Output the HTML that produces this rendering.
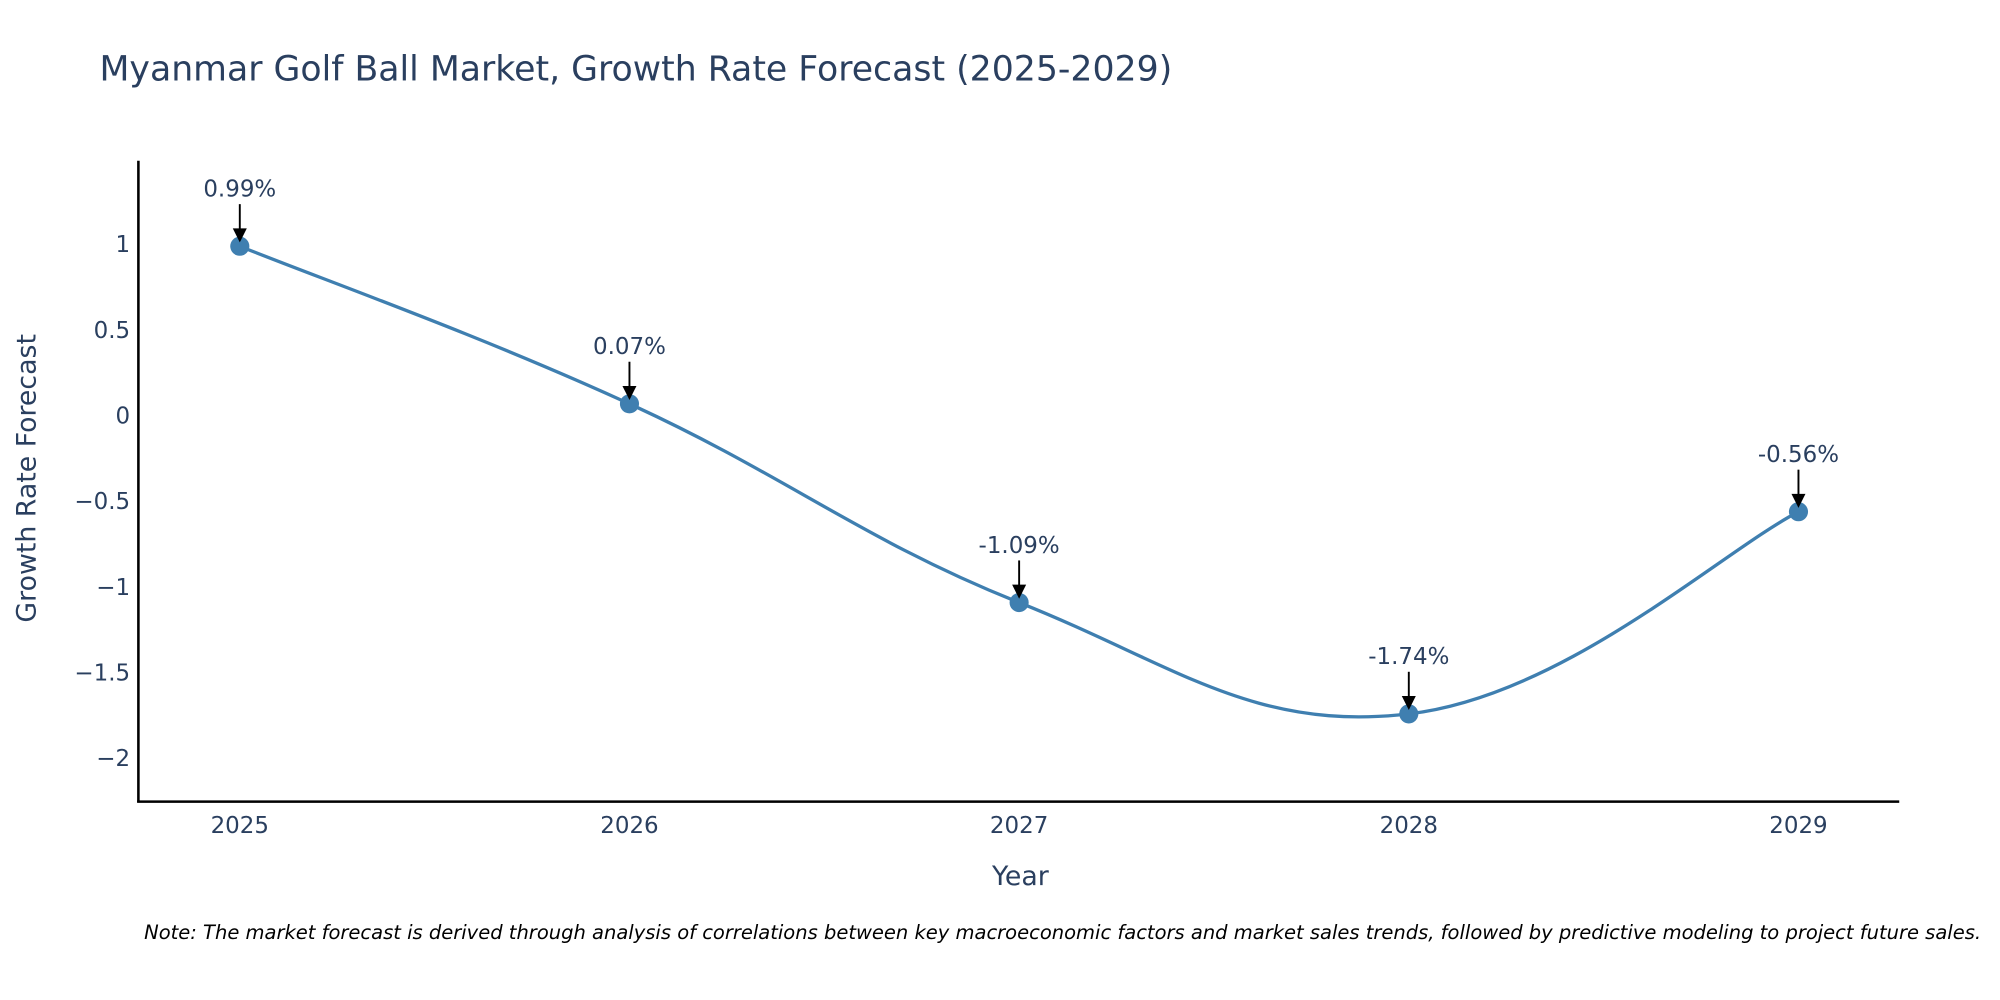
<!DOCTYPE html>
<html><head><meta charset="utf-8"><style>
html,body{margin:0;padding:0;background:#fff;}
svg{display:block;font-family:"DejaVu Sans","Liberation Sans",sans-serif;}
</style></head><body>
<svg id="chart" width="2000" height="1000" viewBox="0 0 1568 784">
<text x="78" y="63" font-size="27.2" fill="#2a3f5f">Myanmar Golf Ball Market, Growth Rate Forecast (2025-2029)</text>
<g id="yticks"></g>
<g id="xticks"></g>
<line x1="108.5" y1="126" x2="108.5" y2="629" stroke="#000" stroke-width="2"/>
<line x1="107.5" y1="628.5" x2="1489" y2="628.5" stroke="#000" stroke-width="2"/>
<path id="line" fill="none" stroke="#3f7fb0" stroke-width="2.6"/>
<g id="marks"></g>
<text x="800" y="694" font-size="21" fill="#2a3f5f" text-anchor="middle">Year</text>
<text transform="translate(28,375) rotate(-90)" font-size="21" fill="#2a3f5f" text-anchor="middle">Growth Rate Forecast</text>
<text x="113" y="736" font-size="15.3" font-style="italic" fill="#000">Note: The market forecast is derived through analysis of correlations between key macroeconomic factors and market sales trends, followed by predictive modeling to project future sales.</text>
</svg>
<script>
const years = [2025, 2026, 2027, 2028, 2029];
const values = [0.99, 0.07, -1.09, -1.74, -0.56];
const labels = ["0.99%", "0.07%", "-1.09%", "-1.74%", "-0.56%"];
const yTickVals = [1, 0.5, 0, -0.5, -1, -1.5, -2];
const yTickText = ["1", "0.5", "0", "\u22120.5", "\u22121", "\u22121.5", "\u22122"];

const NS = "http://www.w3.org/2000/svg";
const X = v => 188 + (v - 2025) * 305.5;
const Y = v => 326 - v * 134.3;
function mk(tag, attrs, parent, txt) {
  const e = document.createElementNS(NS, tag);
  for (const k in attrs) e.setAttribute(k, attrs[k]);
  if (txt !== undefined) e.textContent = txt;
  parent.appendChild(e);
  return e;
}
const yt = document.getElementById('yticks');
yTickVals.forEach((v, i) => {
  const t = mk('text', {x: 102, y: Y(v) + 6, 'font-size': 18, fill: '#2a3f5f', 'text-anchor': 'end'}, yt, yTickText[i]);
  
  
});
const xt = document.getElementById('xticks');
years.forEach(y => {
  const t = mk('text', {x: X(y), y: 653, 'font-size': 18, fill: '#2a3f5f', 'text-anchor': 'middle'}, xt, String(y));
  
  
});
const pts = years.map((y, i) => [X(y), Y(values[i])]);
let d = `M${pts[0][0]},${pts[0][1]}`;
for (let i = 0; i < pts.length - 1; i++) {
  const p0 = pts[Math.max(i - 1, 0)], p1 = pts[i], p2 = pts[i + 1], p3 = pts[Math.min(i + 2, pts.length - 1)];
  const t = 0.2;
  const c1 = [p1[0] + (p2[0] - p0[0]) * t, p1[1] + (p2[1] - p0[1]) * t];
  const c2 = [p2[0] - (p3[0] - p1[0]) * t, p2[1] - (p3[1] - p1[1]) * t];
  d += ` C${c1[0]},${c1[1]} ${c2[0]},${c2[1]} ${p2[0]},${p2[1]}`;
}
document.getElementById('line').setAttribute('d', d);
const mg = document.getElementById('marks');
pts.forEach((p, i) => {
  const c = mk('circle', {cx: p[0], cy: p[1], r: 7.5, fill: '#3f7fb0'}, mg);
  
  
  const l = mk('line', {x1: p[0], y1: p[1] - 33, x2: p[0], y2: p[1] - 12, stroke: '#000', 'stroke-width': 1.5}, mg);
  
  
  const a = mk('path', {d: `M${p[0]-5.5},${p[1]-14} L${p[0]+5.5},${p[1]-14} L${p[0]},${p[1]-3} Z`, fill: '#000'}, mg);
  
  
  const t = mk('text', {x: p[0], y: p[1] - 39, 'font-size': 18, fill: '#2a3f5f', 'text-anchor': 'middle'}, mg, labels[i]);
  
  
});
</script>
</body></html>
